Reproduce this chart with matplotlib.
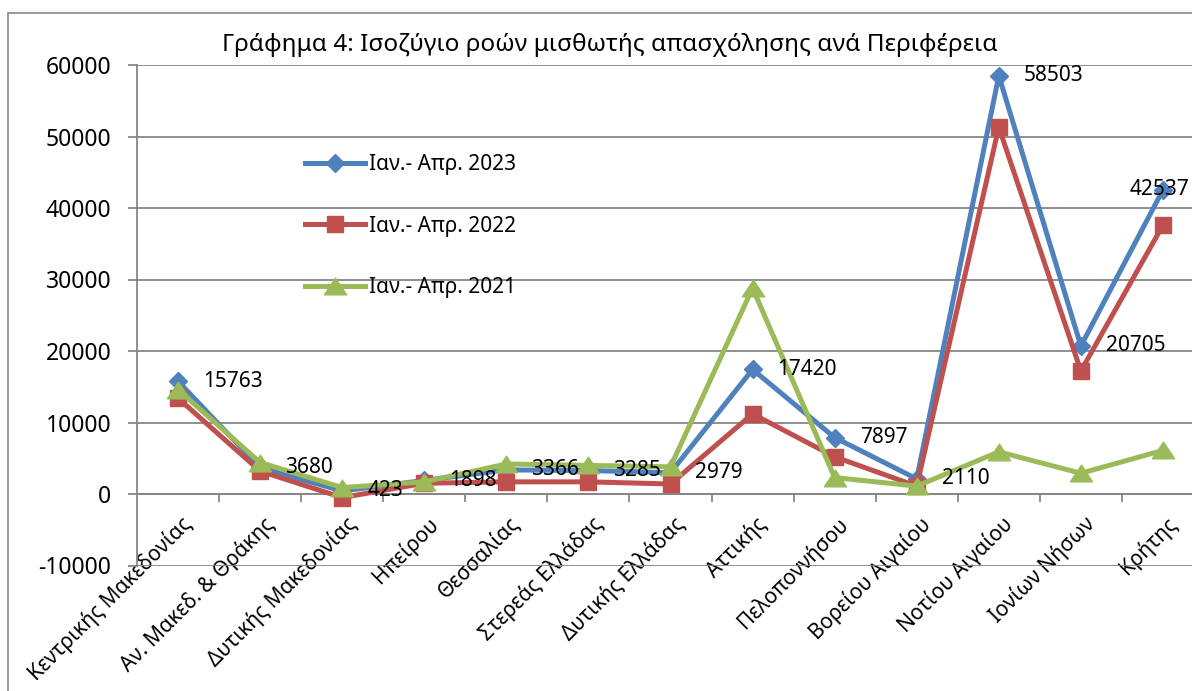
import matplotlib
matplotlib.use("Agg")
import matplotlib.pyplot as plt
from matplotlib.patches import Rectangle
from matplotlib.path import Path
from matplotlib.transforms import ScaledTranslation
import numpy as np

plt.rcParams['font.family'] = ['Noto Sans', 'DejaVu Sans']

title = "Γράφημα 4: Ισοζύγιο ροών μισθωτής απασχόλησης ανά Περιφέρεια"
categories = ["Κεντρικής Μακεδονίας", "Αν. Μακεδ. & Θράκης", "Δυτικής Μακεδονίας",
              "Ηπείρου", "Θεσσαλίας", "Στερεάς Ελλάδας", "Δυτικής Ελλάδας",
              "Αττικής", "Πελοποννήσου", "Βορείου Αιγαίου", "Νοτίου Αιγαίου",
              "Ιονίων Νήσων", "Κρήτης"]
series_names = ["Ιαν.- Απρ. 2023", "Ιαν.- Απρ. 2022", "Ιαν.- Απρ. 2021"]
v2023 = [15763, 3680, 423, 1898, 3366, 3285, 2979, 17420, 7897, 2110, 58503, 20705, 42537]
v2022 = [13400, 3200, -500, 1500, 1700, 1700, 1400, 11200, 5200, 1100, 51300, 17200, 37600]
v2021 = [14600, 4400, 900, 1700, 4200, 4000, 3800, 28800, 2300, 1100, 5900, 2900, 6100]
yticks = [-10000, 0, 10000, 20000, 30000, 40000, 50000, 60000]

W, H = 1192, 691
fig = plt.figure(figsize=(W / 100, H / 100), dpi=100)
fig.patch.set_facecolor("white")

# outer chart frame
fig.patches.append(Rectangle((8 / W, -0.1), 1.2, 1 - 13 / H + 0.1, transform=fig.transFigure,
                             fill=False, edgecolor="#868686", linewidth=1.2, clip_on=False))

left, right = 137 / W, 1204 / W
bottom, top = 1 - 565.5 / H, 1 - 65 / H
ax = fig.add_axes([left, bottom, right - left, top - bottom])
ax.set_facecolor("none")

x = np.arange(len(categories))
ax.set_xlim(-0.5, len(categories) - 0.5)
ax.set_ylim(-10000, 60000)

tri = Path([(-1, -0.75), (1, -0.75), (0, 0.75), (-1, -0.75)],
           [Path.MOVETO, Path.LINETO, Path.LINETO, Path.CLOSEPOLY])

colors = ["#4F81BD", "#C0504D", "#9BBB59"]
ax.plot(x, v2023, color=colors[0], lw=3.6, marker="D", ms=9.5, mew=1,
        mec=colors[0], label=series_names[0], zorder=3)
ax.plot(x, v2022, color=colors[1], lw=3.6, marker="s", ms=12, mew=1,
        mec=colors[1], label=series_names[1], zorder=4)
ax.plot(x, v2021, color=colors[2], lw=3.6, marker=tri, ms=16, mew=1,
        mec=colors[2], label=series_names[2], zorder=5)

# data labels (right of point), last one kept inside the chart
for i, v in enumerate(v2023):
    dx = 18 if i < len(v2023) - 1 else -24
    ax.annotate(str(v), (x[i], v), xytext=(dx, 0), textcoords="offset points",
                ha="left", va="center", fontsize=15, color="black", zorder=10,
                annotation_clip=False)

# grid and axes
ax.set_yticks(yticks)
ax.set_yticklabels([str(t) for t in yticks])
ax.yaxis.grid(True, color="#868686", linewidth=1.3)
ax.set_axisbelow(True)
for s in ["top", "right"]:
    ax.spines[s].set_visible(False)
ax.spines["left"].set_color("#868686")
ax.spines["left"].set_linewidth(1.3)
ax.spines["bottom"].set_position(("data", 0))
ax.spines["bottom"].set_color("#868686")
ax.spines["bottom"].set_linewidth(1.3)

ax.tick_params(axis="y", which="major", direction="out", length=6.5, width=1.3,
               color="#868686", pad=12, labelsize=16.5)
ax.set_xticks(x)
ax.set_xticks(np.arange(0.5, len(categories) - 0.5, 1), minor=True)
ax.tick_params(axis="x", which="major", length=0, pad=14, labelsize=15)
ax.tick_params(axis="x", which="minor", direction="out", length=6, width=1.3,
               color="#868686")
ax.set_xticklabels(categories, rotation=45, ha="right", va="top",
                   rotation_mode="anchor")
off = ScaledTranslation(3 / 100, 0, fig.dpi_scale_trans)
for lab in ax.get_xticklabels():
    lab.set_transform(lab.get_transform() + off)

leg = ax.legend(loc="upper left", bbox_to_anchor=((305 - 137) / (1204 - 137), (565.5 - 154) / 500.5),
                frameon=False, fontsize=15, handlelength=2.9, handletextpad=0.15,
                labelspacing=1.95, borderaxespad=0, borderpad=0, numpoints=1)

fig.text(610 / W, 1 - 45 / H, title, ha="center", va="center", fontsize=17.5)

fig.savefig("out.png", dpi=100)
